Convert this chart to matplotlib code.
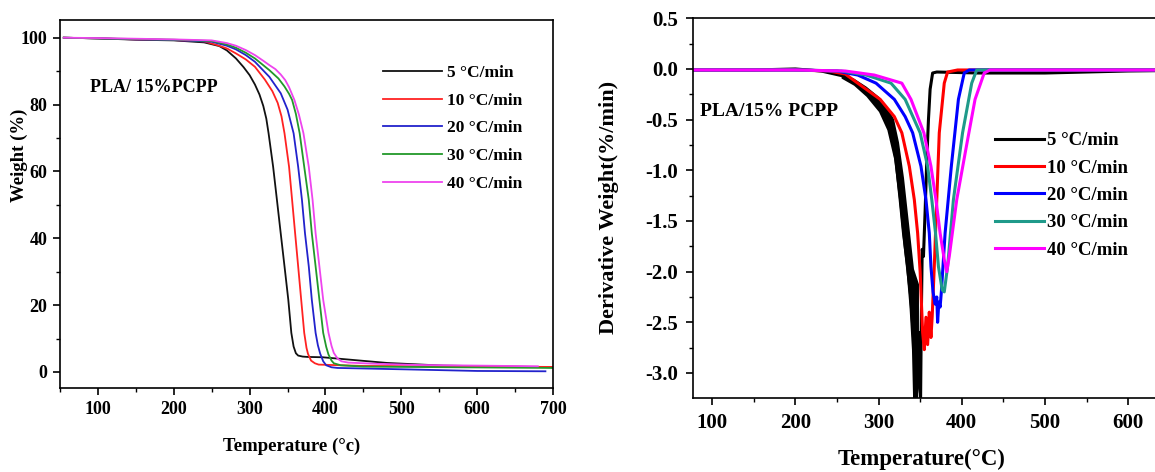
import matplotlib
matplotlib.use("Agg")
import matplotlib.pyplot as plt
from matplotlib.ticker import MultipleLocator

plt.rcParams['font.family'] = ['Liberation Serif', 'DejaVu Serif']
plt.rcParams['font.weight'] = 'bold'
plt.rcParams['axes.unicode_minus'] = False

# ---------------- TGA data (Weight %) ----------------
rates = ["5 °C/min", "10 °C/min", "20 °C/min", "30 °C/min", "40 °C/min"]

tga_T_5 = [55, 100, 150, 200, 240, 260, 270, 282, 292, 300, 307, 313, 318, 322, 325, 331, 336, 341, 346, 351, 355, 358, 361, 364, 370, 376, 396, 431, 481, 555, 700]
tga_W_5 = [100, 99.8, 99.4, 99.2, 98.6, 97.5, 96.2, 93.8, 91.2, 88.8, 86.0, 83.0, 79.6, 75.8, 71.4, 61.4, 51.5, 41.5, 31.6, 21.6, 11.7, 7.6, 5.6, 4.9, 4.6, 4.5, 4.4, 3.7, 2.7, 1.9, 1.4]

tga_T_10 = [55, 100, 150, 200, 240, 257, 270, 282, 295, 307, 320, 330, 337, 342, 346, 352, 356, 360, 364, 368, 372, 375, 377, 381, 386, 391, 450, 700]
tga_W_10 = [100, 99.8, 99.5, 99.3, 98.9, 97.8, 96.8, 95.3, 93.5, 91.3, 87.5, 84.0, 80.5, 76.5, 71.4, 61.4, 51.5, 41.5, 31.6, 21.6, 11.7, 7.2, 5.4, 3.4, 2.6, 2.2, 1.8, 1.5]

tga_T_20 = [55, 100, 150, 200, 250, 270, 282, 295, 307, 326, 341, 350, 358, 364, 369, 373, 378, 382, 387, 390, 393, 397, 401, 408, 416, 500, 600, 690]
tga_W_20 = [100, 99.8, 99.5, 99.3, 98.8, 97.6, 96.5, 94.8, 92.8, 88.3, 83.4, 78.5, 71.4, 61.4, 51.5, 41.5, 31.6, 21.6, 11.7, 8.0, 5.5, 3.2, 2.0, 1.4, 1.2, 0.8, 0.3, 0.2]

tga_T_30 = [55, 100, 150, 200, 250, 270, 282, 295, 307, 326, 338, 346, 352, 356, 361, 366, 372, 378, 382, 387, 392, 397, 401, 404, 408, 411, 420, 450, 700]
tga_W_30 = [100, 99.8, 99.6, 99.4, 99.0, 98.0, 97.0, 95.5, 93.8, 90.3, 87.8, 85.4, 83.2, 81.4, 77.2, 71.4, 61.4, 51.5, 41.5, 31.6, 21.6, 11.7, 7.5, 5.2, 3.4, 2.6, 2.0, 1.6, 1.2]

tga_T_40 = [55, 100, 150, 200, 250, 270, 282, 295, 307, 318, 326, 334, 341, 347, 352, 359, 365, 371, 378, 383, 387, 392, 397, 404, 408, 411, 416, 421, 430, 460, 520, 680]
tga_W_40 = [100, 99.9, 99.7, 99.5, 99.2, 98.4, 97.6, 96.3, 94.8, 93.1, 91.8, 90.6, 89.0, 87.3, 85.2, 81.4, 77.0, 71.4, 61.4, 51.5, 41.5, 31.6, 21.6, 11.7, 7.8, 5.7, 4.0, 3.2, 2.8, 2.5, 2.1, 1.7]

# ---------------- DTG data (%/min) ----------------
dtg_T_5 = [78, 150, 200, 231, 258, 275, 293, 306, 315, 321, 326, 330, 335, 339, 342, 343.5, 344.5, 345.5, 347, 349, 350.5, 351.5, 352.5, 354, 356, 358, 360, 362, 365, 370, 420, 500, 600, 710]
dtg_D_5 = [-0.01, -0.01, 0.0, -0.02, -0.07, -0.15, -0.25, -0.40, -0.57, -0.90, -1.29, -1.62, -1.95, -2.34, -2.77, -3.30, -2.60, -3.30, -2.87, -2.60, -3.30, -2.40, -1.78, -1.85, -1.40, -0.90, -0.50, -0.20, -0.04, -0.03, -0.04, -0.04, -0.02, -0.01]

band_T_5 = [255, 270, 285, 300, 310, 318, 324, 330, 336, 342, 348]
band_lo_5 = [-0.09, -0.16, -0.27, -0.42, -0.60, -0.88, -1.28, -1.78, -2.22, -2.92, -3.20]
band_hi_5 = [-0.04, -0.09, -0.17, -0.27, -0.37, -0.49, -0.72, -1.07, -1.52, -1.97, -2.12]

dtg_T_10 = [78, 200, 240, 260, 275, 302, 319, 328, 337, 343, 347, 350, 353, 355, 357, 359, 361, 363, 364.5, 367, 370, 373, 379, 383, 395, 710]
dtg_D_10 = [-0.01, -0.01, -0.02, -0.05, -0.14, -0.30, -0.47, -0.63, -0.96, -1.29, -1.62, -2.00, -2.60, -2.77, -2.45, -2.72, -2.40, -2.65, -2.44, -1.95, -1.29, -0.63, -0.14, -0.03, -0.01, -0.01]

dtg_T_20 = [78, 200, 250, 275, 297, 319, 332, 341, 351, 357, 361, 363, 365.5, 368, 370, 371, 372.5, 374, 375.5, 380, 387.5, 396, 403, 409, 710]
dtg_D_20 = [-0.01, -0.01, -0.02, -0.06, -0.14, -0.30, -0.47, -0.63, -0.96, -1.29, -1.62, -1.95, -2.20, -2.32, -2.25, -2.50, -2.30, -2.35, -2.20, -1.62, -0.96, -0.30, -0.04, -0.01, -0.01]

dtg_T_30 = [78, 200, 255, 285, 315, 332, 350, 359, 364, 368.5, 372, 376.5, 379, 383, 390, 401, 412, 418, 710]
dtg_D_30 = [-0.01, -0.01, -0.02, -0.06, -0.14, -0.30, -0.63, -0.96, -1.29, -1.62, -1.95, -2.18, -2.20, -1.95, -1.29, -0.63, -0.14, -0.01, -0.01]

dtg_T_40 = [78, 200, 260, 295, 328, 339, 354.5, 363, 369, 374, 379, 382, 385, 394, 405, 416, 427, 434, 710]
dtg_D_40 = [-0.01, -0.01, -0.02, -0.06, -0.14, -0.30, -0.63, -0.96, -1.29, -1.62, -1.88, -2.00, -1.85, -1.29, -0.79, -0.30, -0.04, -0.01, -0.01]

tga_colors = ['#111111', '#ff2222', '#2222cc', '#22992a', '#ee44ee']
dtg_colors = ['#000000', '#ff0000', '#0000ff', '#1f9a8a', '#ff00ff']

W, H = 1155, 472
fig = plt.figure(figsize=(W / 100, H / 100), dpi=100)

# ---------- Left: TGA ----------
ax1_w, ax1_h = 493, 368
ax1 = fig.add_axes([60 / W, (H - 388) / H, ax1_w / W, ax1_h / H])
tga = [(tga_T_5, tga_W_5), (tga_T_10, tga_W_10), (tga_T_20, tga_W_20),
       (tga_T_30, tga_W_30), (tga_T_40, tga_W_40)]
for (t, w), c, lab in zip(tga, tga_colors, rates):
    ax1.plot(t, w, color=c, lw=1.3, label=lab)
ax1.set_xlim(50, 700)
ax1.set_ylim(-4.8, 105.3)
ax1.xaxis.set_major_locator(MultipleLocator(100))
ax1.xaxis.set_minor_locator(MultipleLocator(50))
ax1.yaxis.set_major_locator(MultipleLocator(20))
ax1.yaxis.set_minor_locator(MultipleLocator(10))
ax1.tick_params(which='major', direction='out', length=5, width=1.2, labelsize=13, pad=4)
ax1.tick_params(which='minor', direction='out', length=3, width=1)
for lbl in ax1.get_xticklabels() + ax1.get_yticklabels():
    lbl.set_fontweight('bold')
for s in ax1.spines.values():
    s.set_linewidth(1.2)
ax1.set_xlabel("Temperature (°c)", fontsize=13.5, fontweight='bold')
ax1.xaxis.set_label_coords((292 - 60) / ax1_w, (388 - 438) / ax1_h)
ax1.set_ylabel("Weight (%)", fontsize=13.5, fontweight='bold')
ax1.yaxis.set_label_coords((28 - 60) / ax1_w, (388 - 155) / ax1_h)
ax1.text((90 - 60) / ax1_w, (388 - 88) / ax1_h, "PLA/ 15%PCPP", transform=ax1.transAxes,
         fontsize=13, fontweight='bold', va='center', ha='left')
leg1 = ax1.legend(loc='upper left', bbox_to_anchor=((383 - 60) / ax1_w, (388 - 65) / ax1_h),
                  frameon=False, prop={'size': 12.5, 'weight': 'bold'}, handlelength=3.4,
                  handletextpad=0.3, labelspacing=0.66, borderaxespad=0, borderpad=0)

# ---------- Right: DTG ----------
xr_lo, xr_hi = 77, 650
ax2_w, ax2_h = (xr_hi - xr_lo) * 0.832, 379.7
ax2 = fig.add_axes([693 / W, (H - 398) / H, ax2_w / W, ax2_h / H])
dtg = [(dtg_T_5, dtg_D_5), (dtg_T_10, dtg_D_10), (dtg_T_20, dtg_D_20),
       (dtg_T_30, dtg_D_30), (dtg_T_40, dtg_D_40)]
ax2.fill_between(band_T_5, band_lo_5, band_hi_5, color=dtg_colors[0], lw=0)
for (t, d), c, lab in zip(dtg, dtg_colors, rates):
    ax2.plot(t, d, color=c, lw=2.2, label=lab)
ax2.set_xlim(xr_lo, xr_hi)
ax2.set_ylim(-3.247, 0.5)
ax2.xaxis.set_major_locator(MultipleLocator(100))
ax2.xaxis.set_minor_locator(MultipleLocator(50))
ax2.yaxis.set_major_locator(MultipleLocator(0.5))
ax2.yaxis.set_minor_locator(MultipleLocator(0.25))
ax2.tick_params(which='major', direction='out', length=5, width=1.2, labelsize=15, pad=6)
ax2.tick_params(which='minor', direction='out', length=3, width=1)
for lbl in ax2.get_xticklabels() + ax2.get_yticklabels():
    lbl.set_fontweight('bold')
for s in ax2.spines.values():
    s.set_linewidth(1.2)
ax2.set_xlabel("Temperature(°C)", fontsize=16.5, fontweight='bold')
ax2.xaxis.set_label_coords((922 - 693) / ax2_w, (398 - 449) / ax2_h)
ax2.set_ylabel("Derivative Weight(%/min)", fontsize=16, fontweight='bold')
ax2.yaxis.set_label_coords((619 - 693) / ax2_w, (398 - 207) / ax2_h)
ax2.text((700 - 693) / ax2_w, (398 - 111) / ax2_h, "PLA/15% PCPP", transform=ax2.transAxes,
         fontsize=14, fontweight='bold', va='center', ha='left')
leg2 = ax2.legend(loc='upper left', bbox_to_anchor=((995 - 693) / ax2_w, (398 - 132) / ax2_h),
                  frameon=False, prop={'size': 13.5, 'weight': 'bold'}, handlelength=2.6,
                  handletextpad=0.15, labelspacing=0.55, borderaxespad=0, borderpad=0)

fig.savefig("out.png", dpi=100)
